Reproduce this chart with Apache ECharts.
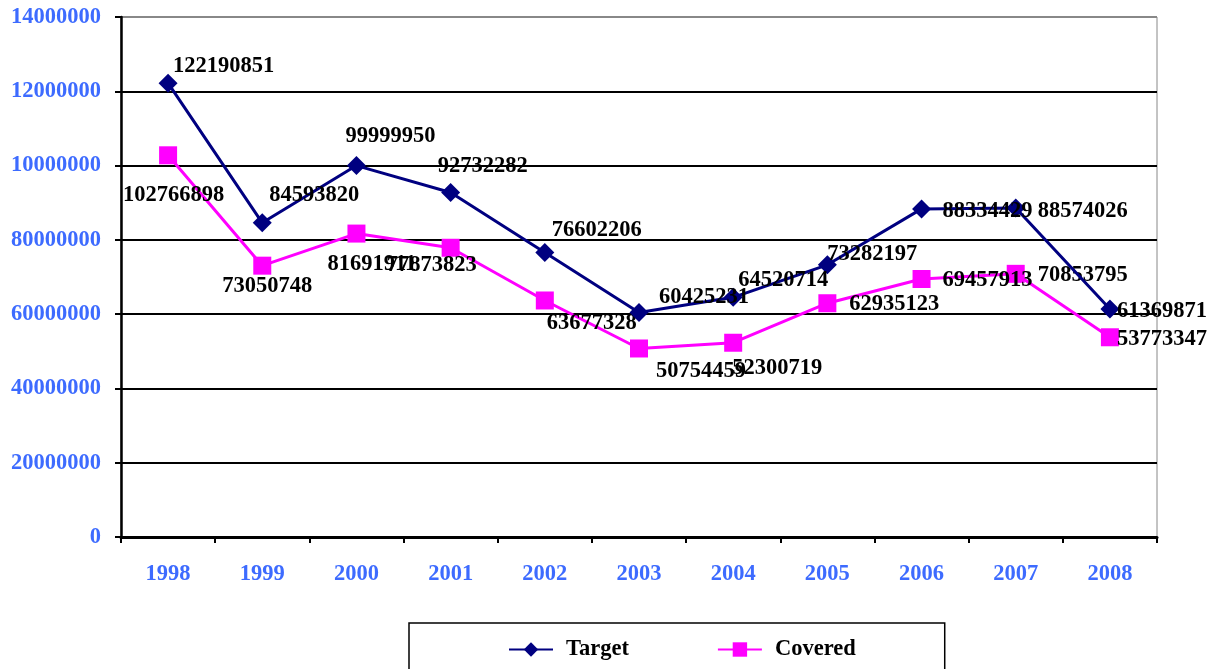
<!DOCTYPE html>
<html>
<head>
<meta charset="utf-8">
<script src="https://cdn.jsdelivr.net/npm/echarts@6/dist/echarts.min.js"></script>
<style>html,body{margin:0;padding:0;background:#fff}#c{width:1223px;height:669px}</style>
</head>
<body>
<div id="c"></div>
<script>
var years = ['1998','1999','2000','2001','2002','2003','2004','2005','2006','2007','2008'];
var target = [122190851, 84593820, 99999950, 92732282, 76602206, 60425231, 64520714, 73282197, 88334429, 88574026, 61369871];
var covered = [102766898, 73050748, 81691911, 77873823, 63677328, 50754459, 52300719, 62935123, 69457913, 70853795, 53773347];
var yTickLabels = ['0','20000000','40000000','60000000','80000000','10000000','12000000','14000000'];

// label placement offsets (pixels, relative to marker centre)
var targetLabelOffsets = [[5,-17],[7,-28],[-11,-29],[-13,-26],[7,-22],[20,-15],[5,-17],[0,-11],[21,2],[22,3],[7,2]];
var coveredLabelOffsets = [[-45,40],[-40,21],[-29,31],[-64,17],[2,23],[17,23],[-1,25],[22,1],[21,1],[22,1],[7,2]];

var FONT = '"Liberation Serif","Times New Roman",serif';
var BLUE = '#3d6bff';
var FS = 22.5;

function mk(vals, offs) {
  return vals.map(function (v, i) {
    return { value: v, label: { offset: offs[i] } };
  });
}
var labelBase = {
  show: true, position: 'inside', align: 'left', verticalAlign: 'middle',
  color: '#000', fontFamily: FONT, fontWeight: 'bold', fontSize: FS
};

var chart = echarts.init(document.getElementById('c'), null, { renderer: 'canvas' });
chart.setOption({
  animation: false,
  backgroundColor: '#fff',
  grid: { left: 121, right: 66, top: 17, bottom: 132, show: true, borderColor: '#888', borderWidth: 1, backgroundColor: 'transparent' },
  legend: {
    left: 409, top: 623,
    padding: [15, 89, 40, 99],
    borderColor: '#000', borderWidth: 1.5,
    itemWidth: 44, itemHeight: 18, itemGap: 88,
    textStyle: { fontFamily: FONT, fontWeight: 'bold', fontSize: FS, color: '#000', padding: [0, 0, 0, 8] },
    data: ['Target', 'Covered']
  },
  xAxis: {
    type: 'category', data: years, boundaryGap: true,
    axisLine: { lineStyle: { color: '#000', width: 3 } },
    axisTick: { show: true, length: 6, inside: false, lineStyle: { color: '#000', width: 2 } },
    axisLabel: { color: BLUE, fontFamily: FONT, fontWeight: 'bold', fontSize: FS, margin: 26 },
    splitLine: { show: false }
  },
  yAxis: {
    type: 'value', min: 0, max: 140000000, interval: 20000000,
    axisLine: { show: true, lineStyle: { color: '#000', width: 2.5 } },
    axisTick: { show: true, length: 6, lineStyle: { color: '#000', width: 2 } },
    axisLabel: {
      color: BLUE, fontFamily: FONT, fontWeight: 'bold', fontSize: FS, margin: 20,
      formatter: function (v) { return yTickLabels[Math.round(v / 20000000)]; }
    },
    splitLine: { show: true, lineStyle: { color: ['#000','#000','#000','#000','#000','#000','#000','#888'], width: 2 } }
  },
  series: [
    {
      name: 'Target', type: 'line', data: mk(target, targetLabelOffsets),
      symbol: 'diamond', symbolSize: 19, showAllSymbol: true,
      itemStyle: { color: '#000080' },
      lineStyle: { color: '#000080', width: 3 },
      label: labelBase, z: 3
    },
    {
      name: 'Covered', type: 'line', data: mk(covered, coveredLabelOffsets),
      symbol: 'rect', symbolSize: 18, showAllSymbol: true,
      itemStyle: { color: '#ff00ff' },
      lineStyle: { color: '#ff00ff', width: 3 },
      label: labelBase, z: 2
    }
  ]
});
</script>
</body>
</html>
